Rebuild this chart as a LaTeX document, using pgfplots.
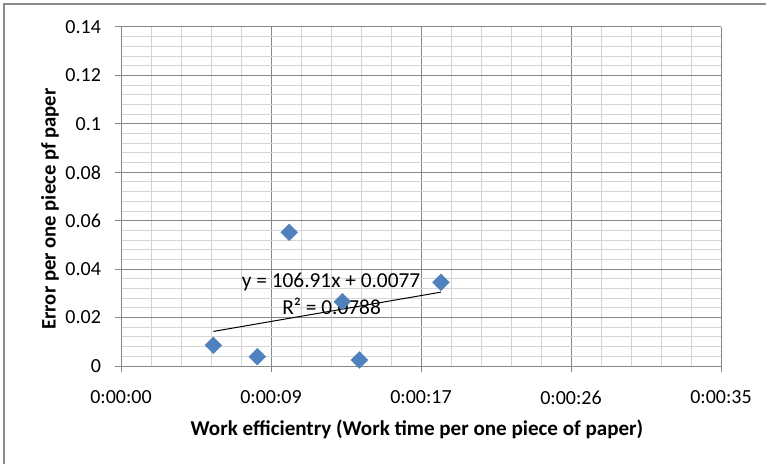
\documentclass[border=0pt]{standalone}
\usepackage{pgfplots}
\pgfplotsset{compat=1.18}
\usepackage{fontspec}
\setmainfont{Carlito}
\definecolor{markblue}{HTML}{4F81BD}
\definecolor{majorgrid}{HTML}{868686}
\definecolor{minorgrid}{HTML}{D4D4D4}
\definecolor{framegray}{HTML}{8C8C8C}
\begin{document}
\begin{tikzpicture}
\useasboundingbox (0,0) rectangle (574.5pt,348pt);
% chart frame
\draw[framegray, line width=1.1pt] (3pt,0) -- (3pt,345pt) -- (574.5pt,345pt);
\begin{axis}[
  at={(90.75pt,73.5pt)}, anchor=south west,
  scale only axis, width=450pt, height=254.25pt,
  xmin=0, xmax=34.56, ymin=0, ymax=0.14,
  xtick={0,8.64,17.28,25.92,34.56},
  xticklabels={0:00:00,0:00:09,0:00:17,0:00:26,0:00:35},
  ytick={0,0.02,0.04,0.06,0.08,0.1,0.12,0.14},
  yticklabels={0,0.02,0.04,0.06,0.08,0.1,0.12,0.14},
  minor x tick num=4, minor y tick num=4,
  grid=both,
  major grid style={majorgrid, line width=0.75pt},
  minor grid style={minorgrid, line width=0.75pt},
  axis lines=left,
  axis line style={majorgrid, line width=0.75pt, -},
  tick align=outside,
  major tick length=4.5pt,
  minor tick length=0pt,
  tick style={majorgrid, line width=0.75pt},
  ticklabel style={font=\fontsize{15}{17}\selectfont, text=black},
  xticklabel style={yshift=-10.5pt},
  yticklabel style={xshift=-7pt},
  clip=false,
]
% measured points (x in seconds)
\addplot[only marks, mark=square*, mark size=4.4pt,
  mark options={rotate=45, fill=markblue, draw=markblue}]
  coordinates {
    (5.32,0.00855) (7.85,0.00384) (9.69,0.0552)
    (12.75,0.02655) (13.73,0.00248) (18.43,0.03456)
  };
% linear trendline y = 106.91x + 0.0077 (x in days)
\addplot[black, line width=0.75pt] coordinates {(5.32,0.014283) (18.43,0.030505)};
\node[font=\fontsize{16}{18}\selectfont] at (axis cs:12.1,0.0348) {y = 106.91x + 0.0077};
\node[font=\fontsize{16}{18}\selectfont] at (axis cs:12.13,0.0248) {R² = 0.0788};
\end{axis}
\node[font=\bfseries\fontsize{15.8}{18}\selectfont] at (312.75pt,26.25pt)
  {Work efficientry (Work time per one piece of paper)};
\node[font=\bfseries\fontsize{15.5}{18}\selectfont, rotate=90] at (37.5pt,191.25pt)
  {Error per one piece pf paper};
\end{tikzpicture}
\end{document}
